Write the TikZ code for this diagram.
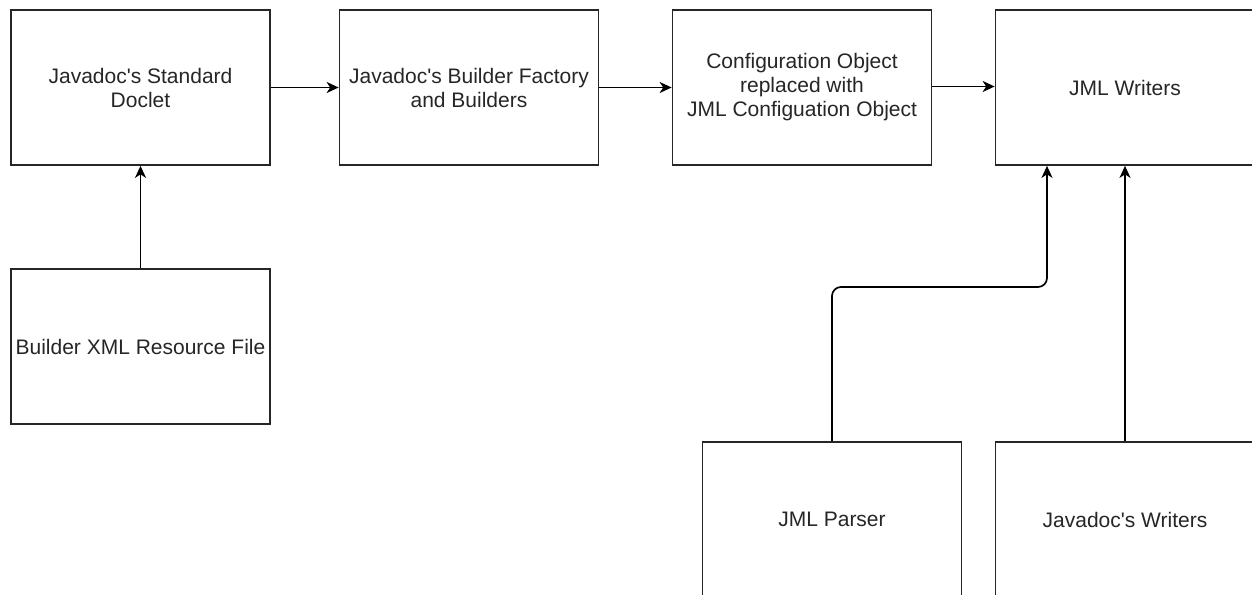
\documentclass[tikz,border=0pt]{standalone}
\usepackage{fontspec}
\setmainfont{Liberation Sans}
\usetikzlibrary{arrows.meta}
\begin{document}
\begin{tikzpicture}[x=1pt,y=-1pt,
  box/.style={draw=black!85, line width=1.7pt, fill=white, minimum width=259pt, minimum height=155pt, inner sep=0pt, align=center, font=\fontsize{21}{24}\selectfont, text=black!85},
  arr/.style={draw=black, line width=1.7pt, -{Stealth[length=12pt,width=11pt,inset=3.5pt]}}]
\useasboundingbox (0,0) rectangle (1252,594);
\clip (0,0) rectangle (1252,594);
\fill[white] (0,0) rectangle (1252,594);
\node[box] (b1) at (140.5,87.5) {Javadoc\textquotesingle s Standard\\Doclet};
\node[box] (b2) at (469,87.5) {Javadoc\textquotesingle s Builder Factory\\and Builders};
\node[box] (b3) at (802,87.5) {Configuration Object\\replaced with\\JML Configuation Object};
\node[box] (b4) at (1125,87.5) {JML Writers};
\node[box] (b5) at (140.5,346.5) {Builder XML Resource File};
\node[box] (b6) at (832,519.5) {JML Parser};
\node[box] (b7) at (1125,519.5) {Javadoc\textquotesingle s Writers};
\coordinate (j) at (1047,287);
\draw[arr] (b1.east) -- (b2.west);
\draw[arr] (b2.east) -- (b3.west);
\draw[arr] ([yshift=1pt]b3.east) -- ([yshift=1pt]b4.west);
\draw[arr] (b5.north) -- (b1.south);
\draw[arr, rounded corners=9pt] (b6.north) |- (j) -- ([xshift=-78pt]b4.south);
\draw[arr] (b7.north) -- (b4.south);
\end{tikzpicture}
\end{document}
